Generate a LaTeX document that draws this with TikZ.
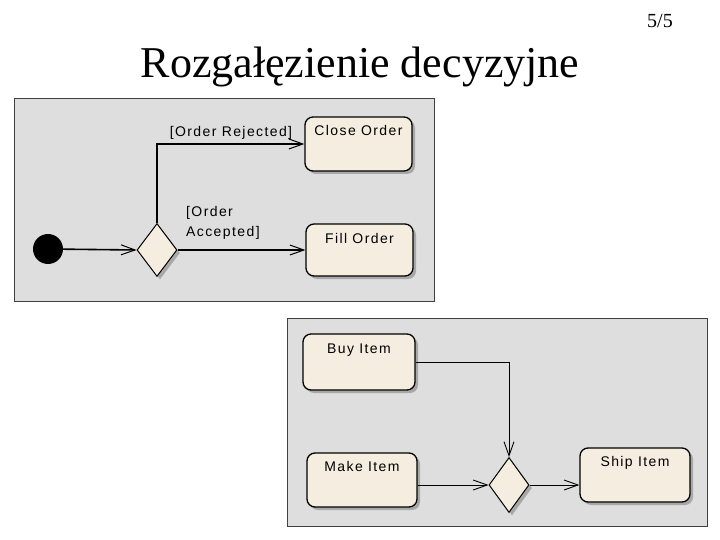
\documentclass[tikz,border=0pt]{standalone}
\usepackage{fontspec}
\setmainfont{Liberation Serif}
\newfontfamily\diagfont[LetterSpace=10]{Liberation Sans}
\usetikzlibrary{shapes.geometric,shadows,arrows.meta}
\definecolor{panelgray}{HTML}{DEDEDE}
\definecolor{boxfill}{HTML}{F5EEE0}
\definecolor{shadowgray}{HTML}{A8A8A8}
\tikzset{
  panel/.style={draw=black!75, line width=1pt, fill=panelgray},
  actbox/.style={draw=black, line width=1.3pt, fill=boxfill, rounded corners=8pt,
    drop shadow={shadow xshift=3pt, shadow yshift=-3pt, fill=shadowgray, opacity=1}},
  decision/.style={diamond, draw=black, line width=1pt, fill=boxfill, inner sep=0pt,
    minimum width=40pt, minimum height=53pt,
    drop shadow={shadow xshift=3pt, shadow yshift=-3pt, fill=shadowgray, opacity=1}},
  startdot/.style={circle, fill=black, inner sep=0pt, minimum size=30pt},
  flow/.style={line width=1.6pt, -{Straight Barb[length=14pt, width=10pt, line width=1pt]}},
  thinflow/.style={line width=0.9pt, -{Straight Barb[length=14pt, width=10pt, line width=0.9pt]}},
  dtext/.style={font=\diagfont\fontsize{14}{20}\selectfont, inner sep=1pt},
}
\begin{document}
\begin{tikzpicture}[x=1pt,y=-1pt]
\useasboundingbox (0,0) rectangle (720,540);
\node[font=\fontsize{44}{48}\selectfont] (title) at (360,67) {Rozgałęzienie decyzyjne};
\node[font=\fontsize{20}{22}\selectfont] (page) at (660,21) {5/5};

% top panel
\path[panel] (14,99) rectangle (434,301);
\node[startdot] (start) at (48,249) {};
\node[decision] (d1) at (157,250) {};
\node[actbox, minimum width=107pt, minimum height=54pt,
  label={[dtext, anchor=north, yshift=-8pt]north:Close Order}] (close) at (358.5,144) {};
\node[actbox, minimum width=107pt, minimum height=52pt,
  label={[dtext, anchor=north, yshift=-9pt]north:Fill Order}] (fill) at (359.5,250) {};
\draw[flow] (start) -- (d1.west);
\draw[flow] (d1.north) |- (close.west);
\draw[flow] (d1.east) -- (fill.west);
\node[dtext] (lrej) at (231,133) {[Order Rejected]};
\node[dtext, align=left, anchor=north west] (lacc) at (185,205) {[Order\\Accepted]};

% bottom panel
\path[panel] (287,318) rectangle (707,526);
\node[actbox, minimum width=112pt, minimum height=56pt,
  label={[dtext, anchor=north, yshift=-9pt]north:Buy Item}] (buy) at (359,362) {};
\node[actbox, minimum width=110pt, minimum height=54pt,
  label={[dtext, anchor=north, yshift=-8pt]north:Make Item}] (make) at (362,480) {};
\node[actbox, minimum width=110pt, minimum height=54pt,
  label={[dtext, anchor=north, yshift=-8pt]north:Ship Item}] (ship) at (635,475) {};
\node[decision, minimum height=55pt] (d2) at (509,485) {};
\draw[thinflow] (buy.east |- 0,362) -| (d2.north);
\draw[thinflow] (make.east |- d2.west) -- (d2.west);
\draw[thinflow] (d2.east) -- (ship.west |- d2.east);
\end{tikzpicture}
\end{document}
